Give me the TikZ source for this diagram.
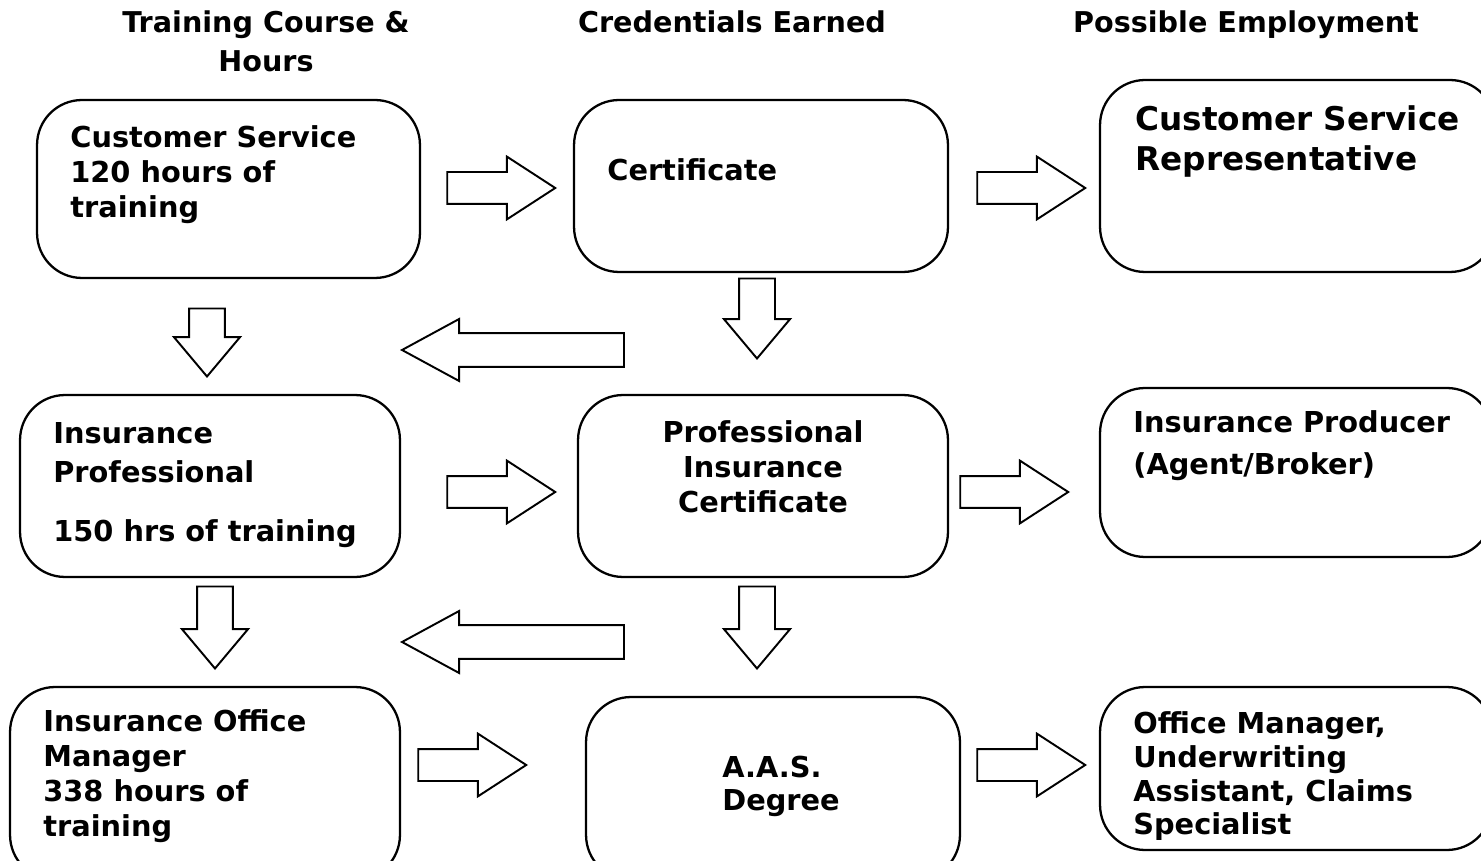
\documentclass[tikz,border=0pt]{standalone}
\usepackage{fontspec}
\setmainfont{DejaVu Sans}
\usetikzlibrary{shapes.arrows}

\tikzset{
  box/.style={draw, line width=1.3pt, rounded corners=0.9cm, inner sep=0pt},
  txt/.style={font=\bfseries\fontsize{16.4}{20}\selectfont, align=left, inner sep=0pt, anchor=north west},
  colhead/.style={font=\bfseries\fontsize{16.3}{22.7}\selectfont, align=center, inner sep=0pt, anchor=north},
  blockarrow/.style={draw, line width=1.1pt, single arrow, inner sep=0pt, anchor=tip},
  rarr/.style={blockarrow, minimum height=2.16cm, inner ysep=0.3cm,
    single arrow head extend=0.31cm, single arrow tip angle=66},
  darr/.style={blockarrow, shape border rotate=270, minimum height=#1, inner xsep=0.34cm,
    single arrow head extend=0.3cm, single arrow tip angle=80},
  larr/.style={blockarrow, shape border rotate=180, minimum height=4.44cm, inner ysep=0.32cm,
    single arrow head extend=0.28cm, single arrow tip angle=57}
}

\begin{document}
\begin{tikzpicture}[x=0.02cm, y=-0.02cm]
	\clip (0,0) rectangle (1481,861);

	% column heads
	\node[colhead] (hcourse) at (266,10) {Training Course \&\\Hours};
	\node[colhead] (hcred) at (732,10) {Credentials Earned};
	\node[colhead] (hjob) at (1246,10) {Possible Employment};

	% row 1
	\node[box, minimum width=7.66cm, minimum height=3.56cm] (cs) at (228.5,189) {};
	\node[box, minimum width=7.48cm, minimum height=3.44cm] (cert) at (761,186) {};
	\node[box, minimum width=7.9cm, minimum height=3.84cm] (csr) at (1297.5,176) {};
	\node[txt] (cstext) at (70,125) {Customer Service\\120 hours of\\training};
	\node[txt] (certtext) at (607,158) {Certificate};
	\node[txt, font=\bfseries\fontsize{18.6}{22.7}\selectfont] (csrtext) at (1135,105) {Customer Service\\Representative};

	% row 2
	\node[box, minimum width=7.6cm, minimum height=3.64cm] (ip) at (210,486) {};
	\node[box, minimum width=7.4cm, minimum height=3.64cm] (pic) at (763,486) {};
	\node[box, minimum width=7.84cm, minimum height=3.38cm] (prod) at (1296,472.5) {};
	\node[txt, font=\bfseries\fontsize{16.4}{22}\selectfont] (iptext) at (53,422) {Insurance\\Professional\\[12pt]150 hrs of training};
	\node[txt, align=center, anchor=north] (pictext) at (763,420) {Professional\\Insurance\\Certificate};
	\node[txt, font=\bfseries\fontsize{16.4}{23.8}\selectfont] (prodtext) at (1133,410) {Insurance Producer\\(Agent/Broker)};

	% row 3
	\node[box, minimum width=7.8cm, minimum height=3.86cm] (iom) at (205,783.5) {};
	\node[box, minimum width=7.48cm, minimum height=3.66cm] (aas) at (773,788.5) {};
	\node[box, minimum width=7.84cm, minimum height=3.26cm] (om) at (1296,768.5) {};
	\node[txt] (iomtext) at (43,709) {Insurance Office\\Manager\\338 hours of\\training};
	\node[txt, font=\bfseries\fontsize{16.4}{18.6}\selectfont] (aastext) at (722,756) {A.A.S.\\Degree};
	\node[txt, font=\bfseries\fontsize{16.4}{19.3}\selectfont] (omtext) at (1133,711) {Office Manager,\\Underwriting\\Assistant, Claims\\Specialist};

	% block arrows, placed by their tips
	\node[rarr] (a1) at (557,188) {};
	\node[rarr] (a2) at (1087,188) {};
	\node[rarr] (a3) at (557,492) {};
	\node[rarr] (a4) at (1070,492) {};
	\node[rarr] (a5) at (528,765) {};
	\node[rarr] (a6) at (1087,765) {};
	\node[darr=1.36cm] (d1) at (207,378) {};
	\node[darr=1.6cm] (d2) at (757,360) {};
	\node[darr=1.64cm] (d3) at (215,670) {};
	\node[darr=1.64cm] (d4) at (757,670) {};
	\node[larr] (l1) at (400,350) {};
	\node[larr] (l2) at (400,642) {};
\end{tikzpicture}
\end{document}
